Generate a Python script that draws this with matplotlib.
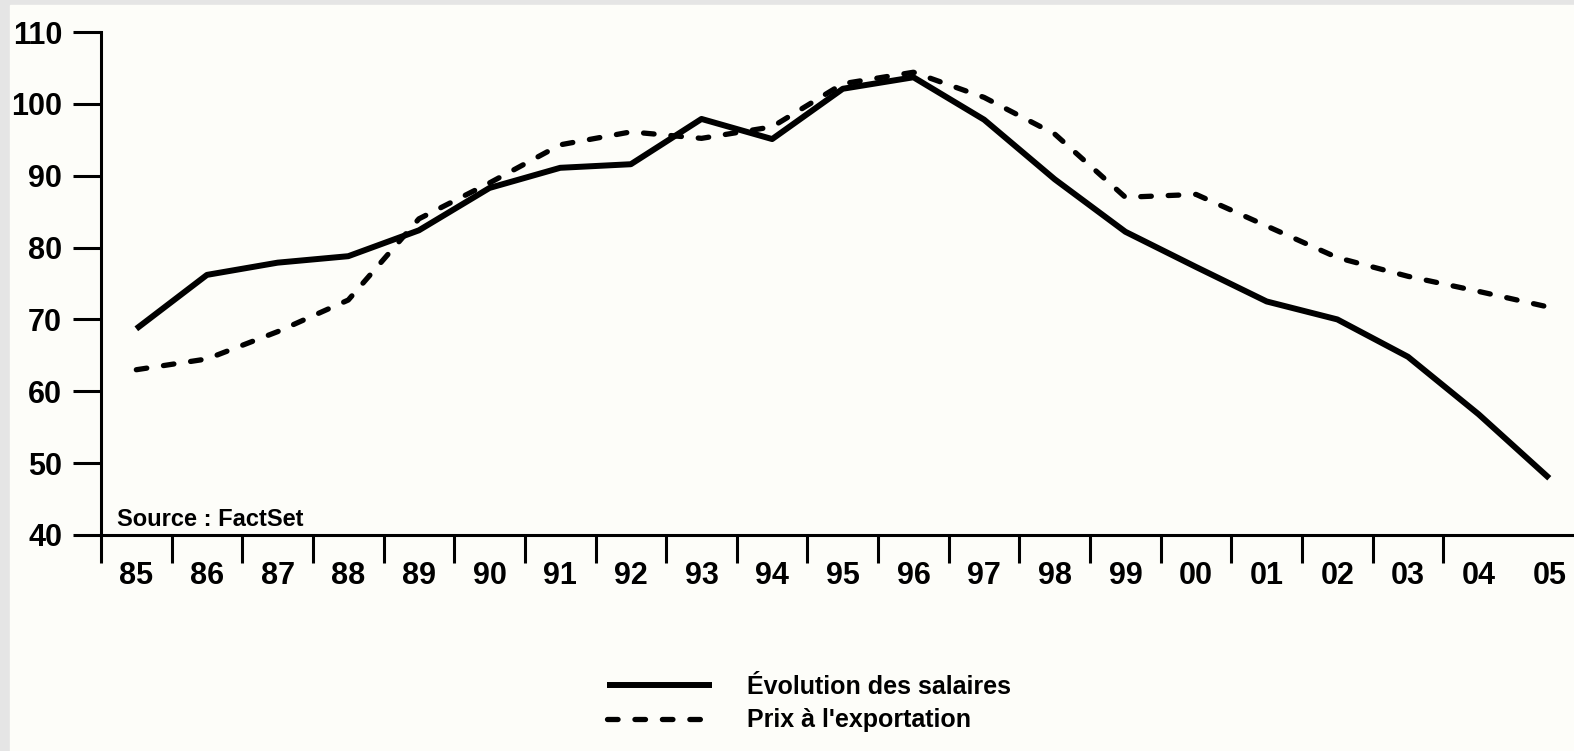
import numpy as np
import matplotlib
matplotlib.use("Agg")
import matplotlib.pyplot as plt
from matplotlib.patches import Rectangle

plt.rcParams['font.family'] = ['Liberation Sans', 'DejaVu Sans']
plt.rcParams['font.weight'] = 'bold'

years = ['85', '86', '87', '88', '89', '90', '91', '92', '93', '94', '95',
         '96', '97', '98', '99', '00', '01', '02', '03', '04', '05']
salaires = [68.7, 76.2, 77.9, 78.8, 82.4, 88.3, 91.1, 91.6, 97.9, 95.1, 102.1,
            103.7, 97.8, 89.5, 82.2, 77.3, 72.5, 70.0, 64.8, 56.8, 47.9]
export = [63.0, 64.5, 68.3, 72.7, 84.0, 89.0, 94.3, 96.1, 95.2, 96.8, 102.8,
          104.4, 100.9, 95.8, 87.0, 87.4, 83.0, 78.6, 76.0, 73.9, 71.7]
yticks = [40, 50, 60, 70, 80, 90, 100, 110]

W, H = 1574, 751
fig = plt.figure(figsize=(W / 100, H / 100), dpi=100, facecolor='#e5e5e5')
# light panel behind the chart
fig.patches.append(Rectangle((10 / W, 0), 1 - 10 / W, 1 - 5 / H,
                             transform=fig.transFigure, color='#fdfdf9', zorder=-5))

ax = fig.add_axes([101 / W, 1 - 535 / H, 1 - 101 / W, (535 - 32) / H])
ax.set_facecolor('none')

x = np.arange(len(years))
ax.plot(x, salaires, color='black', lw=4.3, solid_capstyle='butt',
        solid_joinstyle='round', label='Évolution des salaires')
ax.plot(x, export, color='black', lw=3.8, dashes=(2.0, 3.2),
        dash_capstyle='round', label="Prix à l'exportation")

ax.set_xlim(-0.5, 20.35)
ax.set_ylim(40, 110)

for s in ['top', 'right']:
    ax.spines[s].set_visible(False)
for s in ['left', 'bottom']:
    ax.spines[s].set_linewidth(2.2)

ax.set_yticks(yticks)
ax.set_yticklabels([str(v) for v in yticks], fontsize=22, fontweight='bold')
ax.tick_params(axis='y', direction='out', length=20, width=2.2, pad=8)

ax.set_xticks(x)
ax.set_xticklabels(years, fontsize=22, fontweight='bold')
ax.set_xticks(np.arange(len(years) - 1) - 0.5, minor=True)
ax.tick_params(axis='x', which='major', length=0, pad=19)
ax.tick_params(axis='x', which='minor', direction='out', length=20, width=2.2)

fig.text(117 / W, 1 - 526 / H, 'Source : FactSet', fontsize=17,
         fontweight='bold', va='baseline', ha='left')

leg = ax.legend(loc='upper left', bbox_to_anchor=(607 / W, 1 - 675 / H),
                bbox_transform=fig.transFigure, frameon=False, fontsize=18,
                handlelength=4.2, handletextpad=1.4, labelspacing=0.38,
                borderpad=0, borderaxespad=0)
for t in leg.get_texts():
    t.set_fontweight('bold')

fig.savefig('out.png', dpi=100, facecolor=fig.get_facecolor())
